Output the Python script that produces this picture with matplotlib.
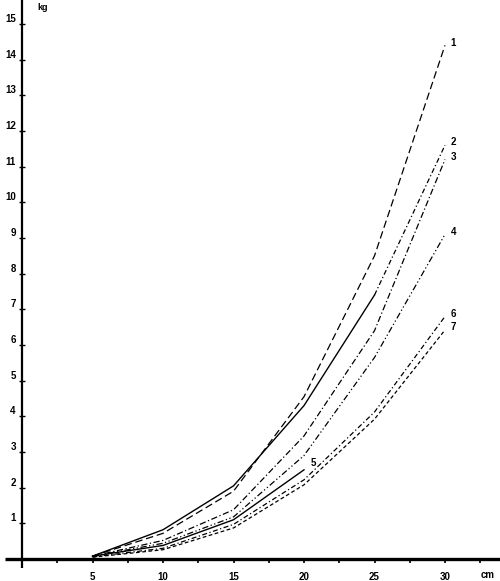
import matplotlib
matplotlib.use("Agg")
import matplotlib.pyplot as plt
import matplotlib.transforms as mtrans

# ---- data ----
length_cm = [5, 10, 15, 20, 25, 30]
curve1 = [0.08, 0.72, 1.90, 4.55, 8.50, 14.40]
curve2 = [0.08, 0.82, 2.05, 4.30, 7.40, 11.60]
curve3 = [0.08, 0.52, 1.38, 3.45, 6.40, 11.20]
curve4 = [0.08, 0.44, 1.18, 2.90, 5.65, 9.10]
length5 = [5, 10, 15, 20]
curve5 = [0.08, 0.38, 1.10, 2.50]
curve6 = [0.06, 0.30, 0.97, 2.22, 4.12, 6.80]
curve7 = [0.05, 0.26, 0.87, 2.08, 3.92, 6.42]
curve_labels = ["1", "2", "3", "4", "5", "6", "7"]
x_ticks = [5, 10, 15, 20, 25, 30]
y_ticks = list(range(1, 16))

plt.rcParams['font.family'] = ['Liberation Sans', 'DejaVu Sans']

fig = plt.figure(figsize=(5.0, 5.81), dpi=100)
ax = fig.add_axes([22/500, 22/581, 478/500, 559/581])
ax.set_xlim(0, 33.9)
ax.set_ylim(0, 15.67)

for s in ['top', 'right']:
    ax.spines[s].set_visible(False)
ax.spines['left'].set_linewidth(1.6)
ax.spines['bottom'].set_linewidth(2.4)

# axis extensions beyond the origin
ax.plot([-1.2, 0], [0, 0], color='black', lw=2.4, clip_on=False, solid_capstyle='butt')
ax.plot([0, 0], [-0.25, 0], color='black', lw=1.6, clip_on=False, solid_capstyle='butt')

lw = 0.9
ax.plot(length_cm, curve1, color='black', lw=lw, ls=(0, (6, 3)))
ax.plot(length_cm[:5], curve2[:5], color='black', lw=1.0, ls='-')
ax.plot(length_cm[4:], curve2[4:], color='black', lw=lw, ls=(0, (4, 2, 1, 2)))
ax.plot(length_cm, curve3, color='black', lw=lw, ls=(0, (5, 2, 1, 2)))
ax.plot(length_cm, curve4, color='black', lw=lw, ls=(0, (5, 2, 1, 2, 1, 2)))
ax.plot(length5, curve5, color='black', lw=1.0, ls='-')
ax.plot(length_cm, curve6, color='black', lw=lw, ls=(0, (4, 2, 1, 2)))
ax.plot(length_cm, curve7, color='black', lw=lw, ls=(0, (3, 2)))

lab_kw = dict(fontsize=7, fontweight='bold', textcoords='offset points', va='center', ha='left')
ends = [(length_cm[-1], curve1[-1]), (length_cm[-1], curve2[-1]), (length_cm[-1], curve3[-1]),
        (length_cm[-1], curve4[-1]), None, (length_cm[-1], curve6[-1]), (length_cm[-1], curve7[-1])]
for lab, e in zip(curve_labels, ends):
    if e is None:
        continue
    ax.annotate(lab, xy=e, xytext=(4, 2), **lab_kw)
ax.annotate(curve_labels[4], xy=(length5[-1], curve5[-1]), xytext=(5, 5), **lab_kw)

# ticks
ax.set_xticks(x_ticks)
ax.set_xticklabels([str(v) for v in x_ticks])
ax.set_xticks([2.5 + 5 * i for i in range(7)], minor=True)
ax.set_yticks(y_ticks)
ax.set_yticklabels([str(v) for v in y_ticks])
ax.tick_params(axis='x', which='both', direction='out', length=3, width=1.2, pad=6,
               labelsize=7)
ax.tick_params(axis='y', which='major', direction='inout', length=5, width=1.0, pad=2,
               labelsize=7)
for t in ax.get_xticklabels() + ax.get_yticklabels():
    t.set_fontweight('bold')
for t in ax.get_yticklabels():
    t.set_va('bottom')

ax.text(33.0, -0.44, "cm", fontsize=7, fontweight='bold', ha='center', va='center')
ax.text(1.45, 15.45, "kg", fontsize=6.5, fontweight='bold', ha='center', va='center')

fig.savefig("out.png", dpi=100)
